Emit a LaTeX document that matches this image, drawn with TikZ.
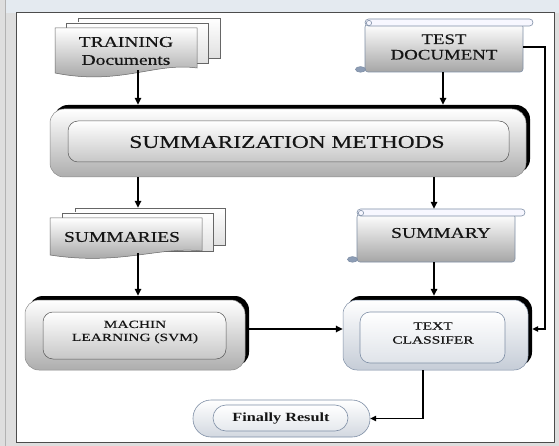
\documentclass[tikz,border=0pt]{standalone}
\usepackage{fontspec}
\setmainfont{Liberation Serif}[FakeStretch=1.3]
\newfontfamily\heavyfont{Liberation Serif}[FakeStretch=1.3, FakeBold=0.35]
\newfontfamily\widefont{Liberation Serif}[FakeStretch=1.4, FakeBold=0.3]
\usetikzlibrary{arrows.meta,fit,calc}
\definecolor{scb}{HTML}{7F8FA6}
\definecolor{scc}{HTML}{8D9DB5}
\definecolor{txt}{HTML}{151515}
\definecolor{topband}{HTML}{E4EAF0}
\tikzset{
 arr/.style={line width=1.5pt, -{Triangle[length=7pt,width=6.5pt]}},
 thinarr/.style={line width=1.1pt, -{Triangle[length=6pt,width=5.5pt]}},
 docback/.style={draw=black!60, line width=0.5pt, top color=white, bottom color=black!12},
 docfront/.style={draw=black!60, line width=0.5pt, top color=white, bottom color=black!40},
 scrollb/.style={draw=scb, line width=0.6pt},
 shadowbox/.style={fill=black, rounded corners=14pt},
 outerbox/.style={draw=black!45, line width=0.5pt, rounded corners=14pt, top color=white, bottom color=black!32},
 innerbox/.style={draw=black!65, line width=0.5pt, rounded corners=10pt, top color=white, bottom color=black!22},
 outerblue/.style={draw=scb, line width=0.5pt, rounded corners=14pt, top color=white, bottom color=scb!45},
 innerblue/.style={draw=scb, line width=0.6pt, rounded corners=10pt, top color=white, bottom color=scb!25},
 lbl/.style={inner sep=0pt, align=center, text=txt},
 area/.style={inner sep=0pt},
}
\newcommand\scrollshape[4]{%
 \draw[scrollb, top color=white, bottom color=black!35, rounded corners=3pt] (#1,#2+5) rectangle (#3,#4);
 \draw[scrollb, fill=blue!3, rounded corners=3.5pt] (#1,#2) rectangle (#3+10,#2+7);
 \draw[scrollb, fill=blue!3] (#1+4,#2+4) circle (2.6);
 \draw[scrollb, fill=scc] (#1-4.5,#4-2.6) ellipse (5 and 2.8);
}
\begin{document}
\begin{tikzpicture}[x=1pt,y=-1pt]
\useasboundingbox (0,0) rectangle (559,446);
\fill[black!13] (0,0) rectangle (559,446);
\fill[topband] (5,0) rectangle (559,13);
\draw[black!30, line width=0.6pt] (5,0) -- (5,446);
\fill[white] (16,13) rectangle (554,442);
\draw[black!70, line width=1pt] (16,13) rectangle (554,442);

% TRAINING documents
\draw[docback] (78,18) rectangle (220,58);
\draw[docback] (66,23) rectangle (208,63);
\draw[docfront] (55,28) -- (197,28) -- (197,68) .. controls (155,62) and (120,86) .. (55,73) -- cycle;
\node[lbl, font=\heavyfont\fontsize{15}{18}\selectfont] (trainT) at (126,51) {TRAINING\\Documents};
\node[area, fit={(55,28) (197,70)}] (train) {};

% TEST DOCUMENT
\scrollshape{365}{19}{523}{72}
\node[lbl, font=\heavyfont\fontsize{14.5}{15.5}\selectfont] (testT) at (444,47) {TEST\\DOCUMENT};
\node[area, fit={(365,19) (523,72)}] (test) {};

% SUMMARIZATION METHODS
\fill[shadowbox] (54,105) rectangle (530,173);
\draw[outerbox] (50,109) rectangle (526,177);
\draw[innerbox] (68,121) rectangle (509,162);
\node[lbl, font=\heavyfont\fontsize{18}{20}\selectfont] (summT) at (287,142) {SUMMARIZATION METHODS};
\node[area, fit={(50,105) (530,177)}] (summ) {};

% SUMMARIES
\draw[docback] (75,208) rectangle (225,245);
\draw[docback] (62,213) rectangle (213,251);
\draw[docfront] (50,218) -- (202,218) -- (202,251) .. controls (160,246) and (120,266) .. (50,255) -- cycle;
\node[lbl, font=\heavyfont\fontsize{15}{18}\selectfont] (summsT) at (122,237) {SUMMARIES};
\node[area, fit={(50,208) (225,253)}] (summs) {};

% SUMMARY
\scrollshape{357}{209}{515}{262}
\node[lbl, font=\heavyfont\fontsize{15}{18}\selectfont] (summyT) at (441,233) {SUMMARY};
\node[area, fit={(357,209) (525,262)}] (summy) {};

% MACHIN LEARNING
\fill[shadowbox] (29,296) rectangle (249,366);
\draw[outerbox] (25,300) rectangle (245,370);
\draw[innerbox] (43,312) rectangle (226,359);
\node[lbl, font=\widefont\fontsize{11}{13}\selectfont] (mlT) at (135,332) {MACHIN\\LEARNING (SVM)};
\node[area, fit={(25,296) (249,370)}] (ml) {};

% TEXT CLASSIFER
\fill[shadowbox] (347,296) rectangle (532,366);
\draw[outerblue] (343,300) rectangle (528,370);
\draw[innerblue] (360,312) rectangle (505,363);
\node[lbl, font=\widefont\fontsize{11}{14}\selectfont] (tcT) at (433,333) {TEXT\\CLASSIFER};
\node[area, fit={(343,296) (532,370)}] (tc) {};

% Finally Result
\draw[scb, line width=0.6pt, rounded corners=18pt, top color=white, bottom color=scb!35] (193,400) rectangle (370,437);
\draw[scb, line width=0.6pt, rounded corners=13pt, top color=white, bottom color=scb!20] (213,405) rectangle (348,431);
\node[lbl, font=\bfseries\fontsize{12.5}{14}\selectfont] (resT) at (281,419) {Finally Result};
\node[area, fit={(193,400) (370,437)}] (res) {};

% connector positions
\coordinate (xa) at (138,0);
\coordinate (xb) at (443,0);
\coordinate (xc) at (434,0);
\coordinate (xd) at (423,0);
\coordinate (ty) at (0,329);
\coordinate (ry) at (0,47);
\coordinate (rx) at (545,0);

\draw[arr] (train.south -| xa) -- (summ.north -| xa);
\draw[arr] (test.south -| xb) -- (summ.north -| xb);
\draw[arr] (summ.south -| xa) -- (summs.north -| xa);
\draw[arr] (summ.south -| xc) -- (summy.north -| xc);
\draw[arr] (summs.south -| xa) -- (ml.north -| xa);
\draw[arr] (summy.south -| xc) -- (tc.north -| xc);
\draw[arr] (ml.east |- ty) -- (tc.west |- ty);
\draw[thinarr] (test.east |- ry) -- (rx |- ry) -- (rx |- ty) -- (tc.east |- ty);
\draw[thinarr] (tc.south -| xd) |- (res.east);
\end{tikzpicture}
\end{document}
